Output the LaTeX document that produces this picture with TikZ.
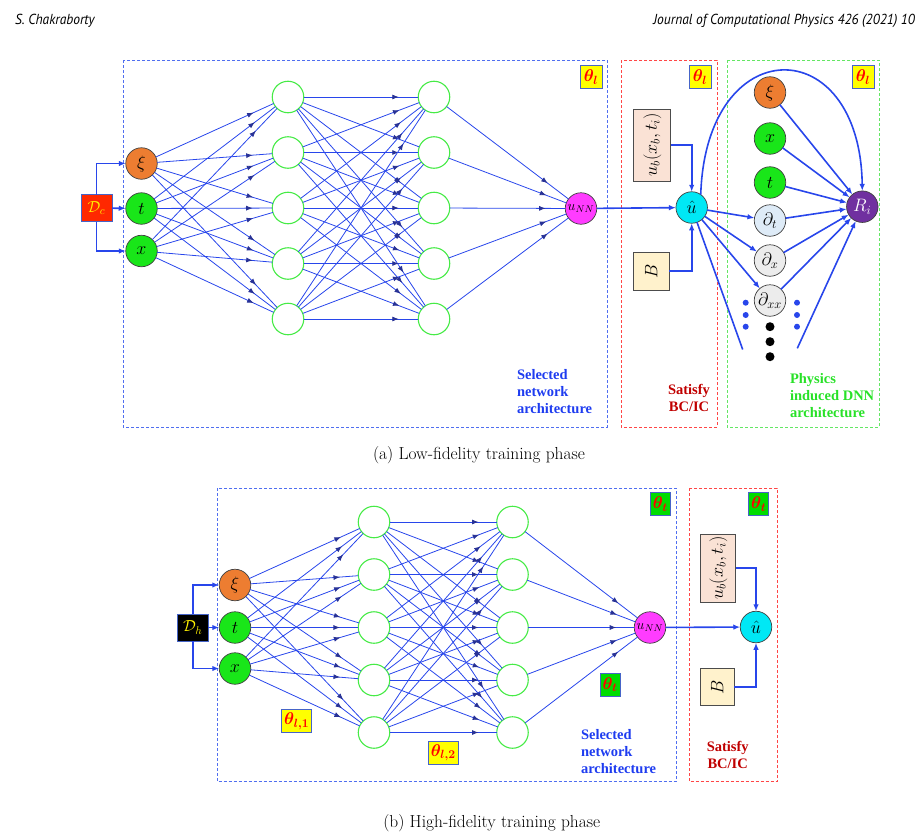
\RequirePackage{fix-cm}
\documentclass[tikz,border=0pt]{standalone}
\usepackage{fontspec}
\usepackage{amsmath}
\usepackage{bm}
\usepackage{graphicx}
\usetikzlibrary{arrows.meta,decorations.markings}
\newfontfamily\lblfont{Liberation Serif}
\newfontfamily\hdrfont[FakeStretch=0.93]{PT Sans}

\definecolor{netblue}{RGB}{40,70,235}
\definecolor{tipblue}{RGB}{40,50,150}
\definecolor{hidgreen}{RGB}{70,235,70}
\definecolor{inorange}{RGB}{237,125,49}
\definecolor{ingreen}{RGB}{25,230,25}
\definecolor{outmag}{RGB}{255,60,255}
\definecolor{hatcyan}{RGB}{0,232,245}
\definecolor{respurple}{RGB}{112,48,160}
\definecolor{dtblue}{RGB}{222,235,247}
\definecolor{dxgray}{RGB}{236,236,236}
\definecolor{ubpeach}{RGB}{250,226,213}
\definecolor{bcream}{RGB}{255,242,204}
\definecolor{dcred}{RGB}{255,40,0}
\definecolor{boxblue}{RGB}{80,110,240}
\definecolor{boxred}{RGB}{255,70,70}
\definecolor{boxgreen}{RGB}{100,230,100}
\definecolor{lblblue}{RGB}{30,60,240}
\definecolor{lblred}{RGB}{192,0,0}
\definecolor{lblgreen}{RGB}{40,225,40}
\definecolor{thetared}{RGB}{255,0,0}
\definecolor{thetayellow}{RGB}{255,255,0}
\definecolor{thetagreen}{RGB}{0,220,0}
\definecolor{thetaframe}{RGB}{70,100,200}

\tikzset{
  every node/.style={inner sep=0pt, outer sep=0pt},
  unit/.style={circle, minimum size=31.5pt, draw=black!75, line width=0.7pt,
    font=\fontsize{18}{20}\selectfont},
  hidden/.style={circle, minimum size=31.5pt, draw=hidgreen, line width=1.1pt, fill=white},
  link/.style={netblue, line width=0.8pt, postaction=decorate,
    decoration={markings,
      mark=at position 0.83 with {\arrow{Latex[length=6.5pt,width=5pt,color=tipblue]}}}},
  feed/.style={netblue, line width=1.6pt, -{Latex[length=7pt,width=5.5pt]}},
  wire/.style={netblue, line width=1.6pt},
  region/.style={dash pattern=on 3pt off 2pt, line width=0.9pt},
  thetabox/.style={draw=thetaframe, line width=0.9pt, text=thetared,
    minimum width=22pt, minimum height=23pt, font=\fontsize{17}{19}\selectfont},
  srcbox/.style={draw=thetaframe, line width=0.9pt, minimum width=31pt,
    minimum height=27pt, text=yellow, font=\fontsize{16}{18}\selectfont},
  condbox/.style={draw=black!70, line width=0.7pt, font=\fontsize{18}{20}\selectfont},
  outunit/.style={unit, fill=outmag, font=\fontsize{14}{16}\selectfont},
  tag/.style={font=\lblfont\bfseries\fontsize{14.5}{17}\selectfont},
  caption/.style={font=\fontsize{17.4}{20}\selectfont},
  header/.style={font=\hdrfont\itshape\fontsize{14.5}{16}\selectfont},
}

\begin{document}
\begin{tikzpicture}[x=1pt,y=-1pt]
\useasboundingbox (0,0) rectangle (916,835);

% running header
\node[header, anchor=base west] (hleft) at (15,24) {S. Chakraborty};
\node[header, anchor=base east] (hright) at (915,24) {Journal of Computational Physics 426 (2021) 10};

% ================= (a) low-fidelity phase =================
\draw[region, draw=boxblue] (123,60) rectangle (607,427);
\draw[region, draw=boxred] (621,60) rectangle (717,427);
\draw[region, draw=boxgreen] (727,60) rectangle (879,427);

\node[thetabox, fill=thetayellow] (pth1) at (591,77) {$\bm{\theta_l}$};
\node[thetabox, fill=thetayellow] (pth2) at (700,77) {$\bm{\theta_l}$};
\node[thetabox, fill=thetayellow] (pth3) at (863,77) {$\bm{\theta_l}$};

% inputs
\node[unit, fill=inorange] (pin1) at (141.5,163.5) {$\xi$};
\node[unit, fill=ingreen] (pin2) at (141.5,208.5) {$t$};
\node[unit, fill=ingreen] (pin3) at (141.5,251) {$x$};
\node[srcbox, fill=dcred] (pdc) at (96.5,208) {$\mathcal{D}_c$};
\draw[feed] (pdc.north) |- (pin1);
\draw[feed] (pdc) -- (pin2);
\draw[feed] (pdc.south) |- (pin3);

% hidden layers and output
\foreach \y [count=\k] in {97,152.5,208,263.5,319} {
  \node[hidden] (pa\k) at (288,\y) {};
  \node[hidden] (pb\k) at (434,\y) {};
}
\node[outunit] (pout) at (581,208.5) {$u_{NN}$};
\foreach \i in {1,2,3} \foreach \k in {1,...,5} \draw[link] (pin\i) -- (pa\k);
\foreach \j in {1,...,5} \foreach \k in {1,...,5} \draw[link] (pa\j) -- (pb\k);
\foreach \k in {1,...,5} \draw[link] (pb\k) -- (pout);

% boundary / initial conditions
\node[unit, fill=hatcyan] (phat) at (691.7,207.5) {$\hat{u}$};
\node[condbox, fill=ubpeach, minimum width=37pt, minimum height=72pt] (pub) at (652.3,145)
  {\rotatebox{90}{$u_b(x_b,t_i)$}};
\node[condbox, fill=bcream, minimum width=36pt, minimum height=38pt] (pbc) at (651.3,271)
  {\rotatebox{90}{$B$}};
\draw[feed] (pout) -- (phat);
\draw[feed] (pub.east) -| (phat);
\draw[feed] (pbc.east) -| (phat);

% physics-induced part
\node[unit, fill=inorange] (pxi) at (770,92.5) {$\xi$};
\node[unit, fill=ingreen] (px) at (770,138.5) {$x$};
\node[unit, fill=ingreen] (pt) at (770,182.5) {$t$};
\node[unit, fill=dtblue] (pdt) at (770,220.5) {$\partial_t$};
\node[unit, fill=dxgray] (pdx) at (770,260.5) {$\partial_x$};
\node[unit, fill=dxgray] (pdxx) at (770,300.5) {$\partial_{xx}$};
\node[unit, fill=respurple, text=white] (pres) at (862.3,206.7) {$R_i$};

\draw[feed] (phat) -- (pdt);
\draw[feed] (phat) -- (pdx);
\draw[feed] (phat) -- (pdxx);
\coordinate (pfl) at (742.7,349.5);
\coordinate (pfr) at (797.3,348.3);
\draw[wire] (phat) -- (pfl);
\draw[feed] (phat.55) .. controls (706,30) and (860,30) .. (pres.north);
\foreach \s in {pxi,px,pt,pdt,pdx,pdxx} \draw[feed] (\s) -- (pres);
\draw[feed] (pfr) -- (pres);

\foreach \y in {302.7,315,326.7} {
  \fill[netblue] (745.7,\y) circle (3);
  \fill[netblue] (797,\y) circle (3);
}
\foreach \y in {326.7,341.7,356.7} \fill[black] (770,\y) circle (4.5);

\node[tag, text=lblblue, align=left, anchor=north west] (plnet) at (517,369)
  {Selected\\network\\architecture};
\node[tag, text=lblred, align=center, anchor=north] (plbc) at (689,384) {Satisfy\\BC/IC};
\node[tag, text=lblgreen, align=left, anchor=north west] (plphy) at (790,373)
  {Physics\\induced DNN\\architecture};

\node[caption] (pcap) at (479,455) {(a) Low-fidelity training phase};

% ================= (b) high-fidelity phase =================
\draw[region, draw=boxblue] (217,488) rectangle (676,781.5);
\draw[region, draw=boxred] (689,488) rectangle (777,781.5);

\node[thetabox, fill=thetagreen, minimum width=20pt] (qth1) at (660.3,504) {$\bm{\theta_t}$};
\node[thetabox, fill=thetagreen, minimum width=20pt] (qth2) at (610,684.5) {$\bm{\theta_t}$};
\node[thetabox, fill=thetagreen, minimum width=20pt] (qth3) at (758.7,504) {$\bm{\theta_t}$};
\node[thetabox, fill=thetayellow, minimum width=30pt] (qth4) at (296.7,721.3) {$\bm{\theta_{l,1}}$};
\node[thetabox, fill=thetayellow, minimum width=30pt] (qth5) at (443.3,752.7) {$\bm{\theta_{l,2}}$};

\node[unit, fill=inorange] (qin1) at (235,585) {$\xi$};
\node[unit, fill=ingreen] (qin2) at (235,627.5) {$t$};
\node[unit, fill=ingreen] (qin3) at (235,668.5) {$x$};
\node[srcbox, fill=black] (qdh) at (192.8,627.5) {$\mathcal{D}_h$};
\draw[feed] (qdh.north) |- (qin1);
\draw[feed] (qdh) -- (qin2);
\draw[feed] (qdh.south) |- (qin3);

\foreach \y [count=\k] in {522,574.5,627.5,680,732.5} {
  \node[hidden] (qa\k) at (374,\y) {};
  \node[hidden] (qb\k) at (512.5,\y) {};
}
\node[outunit] (qout) at (650,627.5) {$u_{NN}$};
\foreach \i in {1,2,3} \foreach \k in {1,...,5} \draw[link] (qin\i) -- (qa\k);
\foreach \j in {1,...,5} \foreach \k in {1,...,5} \draw[link] (qa\j) -- (qb\k);
\foreach \k in {1,...,5} \draw[link] (qb\k) -- (qout);

\node[unit, fill=hatcyan] (qhat) at (756,627) {$\hat{u}$};
\node[condbox, fill=ubpeach, minimum width=35pt, minimum height=68pt] (qub) at (718.3,568.2)
  {\rotatebox{90}{$u_b(x_b,t_i)$}};
\node[condbox, fill=bcream, minimum width=34pt, minimum height=37pt] (qbc) at (717.2,687)
  {\rotatebox{90}{$B$}};
\draw[feed] (qout) -- (qhat);
\draw[feed] (qub.east) -| (qhat);
\draw[feed] (qbc.east) -| (qhat);

\node[tag, text=lblblue, align=left, anchor=north west] (qlnet) at (581,729)
  {Selected\\network\\architecture};
\node[tag, text=lblred, align=center, anchor=north] (qlbc) at (727.7,741) {Satisfy\\BC/IC};

\node[caption] (qcap) at (491.7,823) {(b) High-fidelity training phase};
\end{tikzpicture}
\end{document}
